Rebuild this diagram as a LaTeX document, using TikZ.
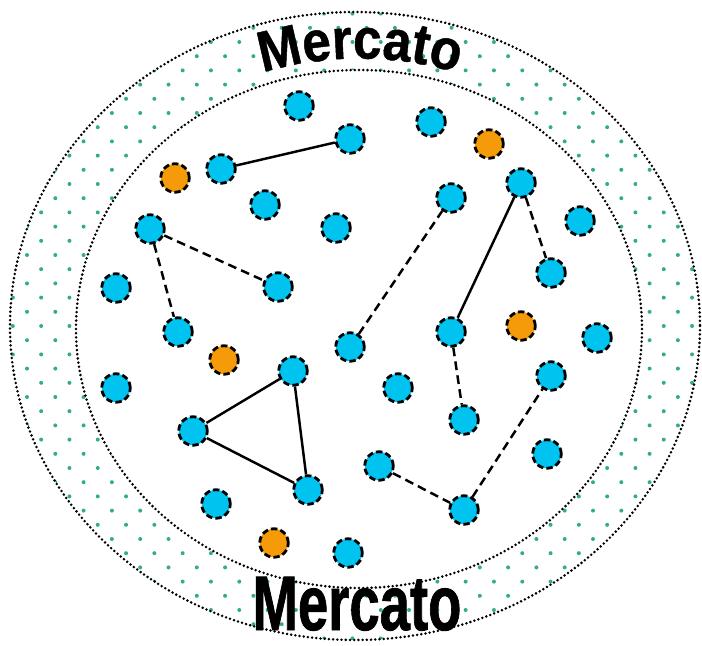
\documentclass[tikz,border=0pt]{standalone}
\usepackage{fontspec}
\usepackage{graphicx}
\usepackage{tikz}
\usetikzlibrary{decorations.text}
\newfontfamily\archfont{Liberation Sans Bold}[FakeStretch=0.9,FakeBold=0.8]
\newfontfamily\basefont{Liberation Sans Bold}[FakeBold=1.2]
\newcommand\archsize{\archfont\fontsize{32.5}{33}\selectfont}
\definecolor{firmblue}{RGB}{0,195,240}
\definecolor{newcomer}{RGB}{245,155,10}
\definecolor{marketdot}{RGB}{50,175,130}

\begin{document}
\begin{tikzpicture}[
  x=0.2mm,y=-0.2mm,
  firm/.style={circle,draw,fill=firmblue,line width=1.6pt,dash pattern=on 3.6pt off 1.8pt,minimum size=5.7mm,inner sep=0pt},
  entrant/.style={firm,fill=newcomer},
  rim/.style={line width=1.6pt,line cap=round,dash pattern=on 0pt off 2.4pt},
  tie/.style={line width=1.4pt},
  loosetie/.style={tie,dash pattern=on 5pt off 3pt}
]
  \useasboundingbox (0,0) rectangle (702,646);
  \begin{scope}
    \clip (355,326) ellipse[x radius=345,y radius=314];
    \foreach \j in {-18,...,28}
      \foreach \i in {-1,...,25}
        \fill[marketdot] ({27+28.3*\i+14.15*mod(\j,2)},{255+14.2*\j}) circle[radius=2];
  \end{scope}
  \fill[white] (359,329) ellipse[x radius=283,y radius=259];
  \draw[rim] (355,326) ellipse[x radius=345,y radius=314];
  \draw[rim] (359,329) ellipse[x radius=283,y radius=259];

  \path[decorate,decoration={text along path,text align=center,text={|\archsize|Mercato}}]
    (227,85.5) arc[start angle=-113,end angle=-67,radius=340];
  \node[anchor=base,inner sep=0pt] (lowlabel) at (357,630)
    {\basefont\fontsize{31}{31}\selectfont\scalebox{1}[1.42]{Mercato}};

  \node[firm] (f1) at (299,106) {};
  \node[firm] (f2) at (350,139) {};
  \node[firm] (f3) at (431,122) {};
  \node[firm] (f4) at (221,169) {};
  \node[firm] (f5) at (265,205) {};
  \node[firm] (f6) at (336,228) {};
  \node[firm] (f7) at (451,198) {};
  \node[firm] (f8) at (521,183) {};
  \node[firm] (f9) at (580,221) {};
  \node[firm] (f10) at (150,229) {};
  \node[firm] (f11) at (551,273) {};
  \node[firm] (f12) at (278,287) {};
  \node[firm] (f13) at (116,288) {};
  \node[firm] (f14) at (178,332) {};
  \node[firm] (f15) at (451,332) {};
  \node[firm] (f16) at (597,338) {};
  \node[firm] (f17) at (350,347) {};
  \node[firm] (f18) at (293,371) {};
  \node[firm] (f19) at (116,388) {};
  \node[firm] (f20) at (398,388) {};
  \node[firm] (f21) at (551,376) {};
  \node[firm] (f22) at (464,420) {};
  \node[firm] (f23) at (193,431) {};
  \node[firm] (f24) at (547,454) {};
  \node[firm] (f25) at (379,466) {};
  \node[firm] (f26) at (308,490) {};
  \node[firm] (f27) at (216,504) {};
  \node[firm] (f28) at (464,510) {};
  \node[firm] (f29) at (348,553) {};
  \node[entrant] (o1) at (489,144) {};
  \node[entrant] (o2) at (175,178) {};
  \node[entrant] (o3) at (521,326) {};
  \node[entrant] (o4) at (224,360) {};
  \node[entrant] (o5) at (274,543) {};

  \draw[tie] (f4) -- (f2);
  \draw[tie] (f8) -- (f15);
  \draw[tie] (f18) -- (f23);
  \draw[tie] (f23) -- (f26);
  \draw[tie] (f26) -- (f18);
  \draw[loosetie] (f10) -- (f12);
  \draw[loosetie] (f10) -- (f14);
  \draw[loosetie] (f17) -- (f7);
  \draw[loosetie] (f8) -- (f11);
  \draw[loosetie] (f15) -- (f22);
  \draw[loosetie] (f25) -- (f28);
  \draw[loosetie] (f28) -- (f21);
\end{tikzpicture}
\end{document}
